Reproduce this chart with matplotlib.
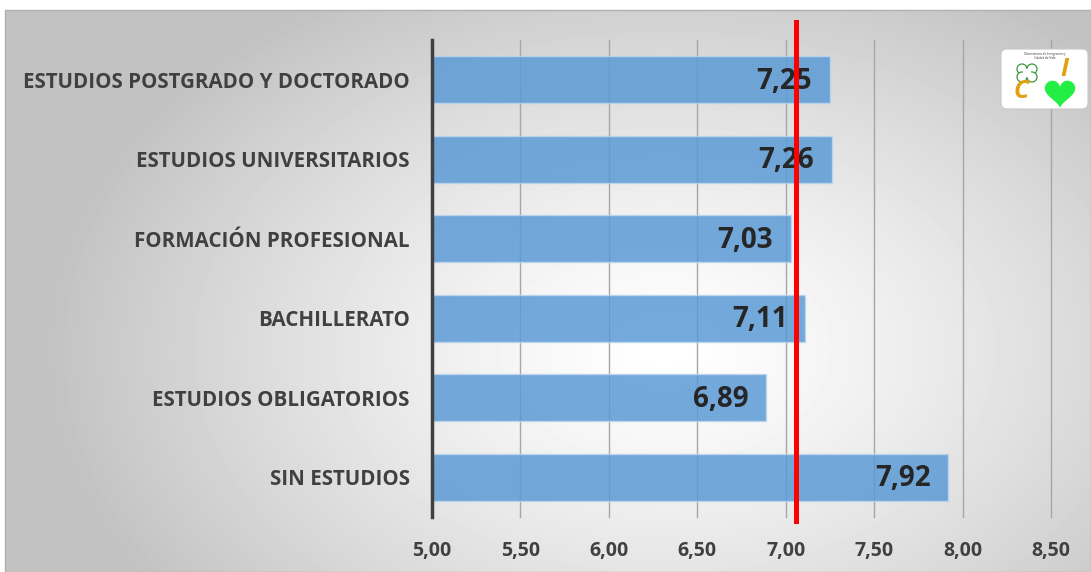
import numpy as np
import matplotlib
matplotlib.use('Agg')
import matplotlib.pyplot as plt
from matplotlib.patches import Rectangle, FancyBboxPatch, Circle, Polygon

# data, bottom to top
categories = ['SIN ESTUDIOS', 'ESTUDIOS OBLIGATORIOS', 'BACHILLERATO',
              'FORMACIÓN PROFESIONAL', 'ESTUDIOS UNIVERSITARIOS',
              'ESTUDIOS POSTGRADO Y DOCTORADO']
values = [7.92, 6.89, 7.11, 7.03, 7.26, 7.25]
mean_value = 7.06
x_ticks = [5.0, 5.5, 6.0, 6.5, 7.0, 7.5, 8.0, 8.5]
x_labels = ['5,00', '5,50', '6,00', '6,50', '7,00', '7,50', '8,00', '8,50']

W, H = 1091, 572
plt.rcParams['font.family'] = ['Open Sans', 'DejaVu Sans']

fig = plt.figure(figsize=(W / 100, H / 100), dpi=100)
fig.patch.set_facecolor('white')

# background panel with radial grey gradient
bg = fig.add_axes([5 / W, 0, 1 - 5 / W, 1 - 10 / H])
yy, xx = np.mgrid[0:562, 0:1086]
d = np.sqrt(((xx - 660) / 620) ** 2 + ((yy - 340) / 420) ** 2)
shade = 1.0 - 0.24 * np.clip(d, 0, 1) ** 1.3
bg.imshow(shade, cmap='gray', vmin=0, vmax=1, aspect='auto',
          extent=[0, 1, 0, 1], origin='upper')
bg.set_xlim(0, 1)
bg.set_ylim(0, 1)
bg.axis('off')
fig.add_artist(Rectangle((5 / W, 0), 1 - 5 / W, 1 - 10 / H, transform=fig.transFigure,
                         fill=False, edgecolor='#b0b0b0', lw=1))

ax = fig.add_axes([432 / W, 55 / H, (1051 - 432) / W, 477 / H])
ax.set_facecolor('none')
y = np.arange(len(categories))
ax.barh(y, values, left=0, height=0.59, color='#5b9bd5', alpha=0.85,
        edgecolor='#bcd6ee', lw=1, zorder=2)
ax.set_xlim(5, 8.5)
ax.set_ylim(-0.5, len(categories) - 0.5)
ax.set_xticks(x_ticks)
ax.set_xticklabels(x_labels)
ax.set_yticks(y)
ax.set_yticklabels(categories)
ax.tick_params(length=0, pad=16, axis='y')
ax.tick_params(length=0, pad=17, axis='x')
for lab in ax.get_yticklabels():
    lab.set_fontweight('bold')
    lab.set_color('#404040')
    lab.set_fontsize(14.8)
for lab in ax.get_xticklabels():
    lab.set_fontweight('bold')
    lab.set_color('#404040')
    lab.set_fontsize(14)
for sp in ['top', 'right', 'bottom']:
    ax.spines[sp].set_visible(False)
ax.spines['left'].set_color('#404040')
ax.spines['left'].set_linewidth(2.5)
ax.grid(axis='x', color='#a6a6a6', lw=1, zorder=1)
ax.set_axisbelow(True)
for gl in ax.get_xgridlines():
    gl.set_clip_on(False)

for yi, v in zip(y, values):
    ax.text(v - 0.1, yi - 0.02, f'{v:.2f}'.replace('.', ','), ha='right', va='center',
            fontsize=20, fontweight='bold', color='#262626', zorder=4)

ax.axvline(mean_value, ymin=-0.008, ymax=1.038, color='#ff0000', lw=3.6,
           clip_on=False, zorder=5)

# logo, drawn in pixel coords on an overlay
lg = fig.add_axes([0, 0, 1, 1])
lg.set_xlim(0, W)
lg.set_ylim(H, 0)
lg.axis('off')
lg.add_patch(FancyBboxPatch((1003, 51), 83, 56, boxstyle='round,pad=2,rounding_size=6',
                            facecolor='white', edgecolor='#c8c8c8', lw=0.8))
lg.text(1045, 52, 'Observatorio de Inmigrantes y\nCalidad de Vida',
        fontsize=2.2, ha='center', va='top', color='#333333', linespacing=1.0)
for dx, dy in [(-5, -3), (5, -3), (-5, 5), (5, 5)]:
    lg.add_patch(Circle((1027 + dx, 72 + dy), 5, facecolor='white',
                        edgecolor='#3a9a3a', lw=0.9))
lg.add_patch(Circle((1027, 73), 4.2, facecolor='white', edgecolor='none'))
t = np.linspace(0, 2 * np.pi, 100)
hx = 1060 + 0.95 * 16 * np.sin(t) ** 3
hy = 92 - 0.95 * (13 * np.cos(t) - 5 * np.cos(2 * t) - 2 * np.cos(3 * t) - np.cos(4 * t))
lg.add_patch(Polygon(np.column_stack([hx, hy]), closed=True, facecolor='#22ee44',
                     edgecolor='none'))
lg.text(1064, 70, 'I', fontsize=18, fontweight='bold', style='italic',
        ha='center', va='center', color='#e0a010')
lg.text(1021, 92, 'C', fontsize=18, fontweight='bold', style='italic',
        ha='center', va='center', color='#e0a010')

fig.savefig('out.png', dpi=100)
